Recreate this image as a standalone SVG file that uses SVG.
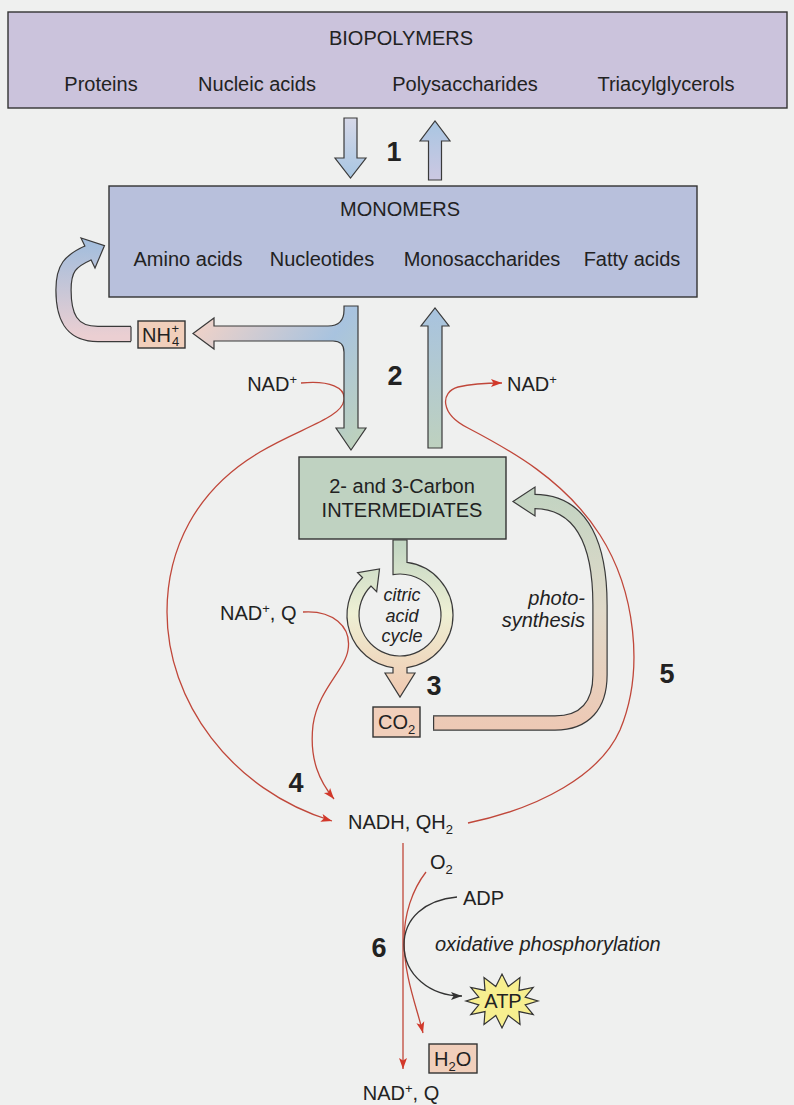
<svg xmlns="http://www.w3.org/2000/svg" width="794" height="1105" viewBox="0 0 794 1105">
<defs>
<style>
.t{font-family:"Liberation Sans",Arial,sans-serif;font-size:20px;fill:#222}
.i{font-style:italic}
.c{font-size:18px}
.n{font-family:"Liberation Sans",Arial,sans-serif;font-size:27px;font-weight:bold;fill:#222}
.s{font-size:13px}
.red{fill:none;stroke:#c0473a;stroke-width:1.3}
.blk{fill:none;stroke:#333;stroke-width:1.3}
.box{stroke:#333;stroke-width:1.4}
.arr{stroke:#3a3a3a;stroke-width:1.2;stroke-linejoin:miter}
.out{fill:none;stroke:#3a3a3a}
</style>
<linearGradient id="g1d" gradientUnits="userSpaceOnUse" x1="0" y1="118" x2="0" y2="178"><stop offset="0" stop-color="#d6d8e8"/><stop offset="1" stop-color="#a8c6e2"/></linearGradient>
<linearGradient id="g1u" gradientUnits="userSpaceOnUse" x1="0" y1="180" x2="0" y2="121"><stop offset="0" stop-color="#ccc8e2"/><stop offset="1" stop-color="#a9c6e2"/></linearGradient>
<linearGradient id="g2d" gradientUnits="userSpaceOnUse" x1="351" y1="450" x2="193" y2="330"><stop offset="0" stop-color="#bdd1bd"/><stop offset="0.42" stop-color="#a8c3df"/><stop offset="1" stop-color="#f0d2c8"/></linearGradient>
<linearGradient id="g2u" gradientUnits="userSpaceOnUse" x1="0" y1="448" x2="0" y2="308"><stop offset="0" stop-color="#bed1bf"/><stop offset="1" stop-color="#a8c3df"/></linearGradient>
<linearGradient id="gNH" gradientUnits="userSpaceOnUse" x1="0" y1="336" x2="0" y2="245"><stop offset="0" stop-color="#ebcfd2"/><stop offset="1" stop-color="#a5bedc"/></linearGradient>
<linearGradient id="gCit" gradientUnits="userSpaceOnUse" x1="0" y1="545" x2="0" y2="697"><stop offset="0" stop-color="#c3d6c3"/><stop offset="0.45" stop-color="#eef0d4"/><stop offset="1" stop-color="#f0c8b0"/></linearGradient>
<linearGradient id="gPh" gradientUnits="userSpaceOnUse" x1="0" y1="726" x2="0" y2="495"><stop offset="0" stop-color="#edc9b5"/><stop offset="0.5" stop-color="#e0d9c9"/><stop offset="1" stop-color="#c3d4c2"/></linearGradient>
<marker id="mr" markerUnits="userSpaceOnUse" markerWidth="12" markerHeight="8" refX="11" refY="4" orient="auto" overflow="visible"><path d="M0,0 L11,4 L0,8 L2.5,4 Z" fill="#d2382a"/></marker>
<marker id="mb" markerUnits="userSpaceOnUse" markerWidth="12" markerHeight="8" refX="11" refY="4" orient="auto" overflow="visible"><path d="M0,0 L11,4 L0,8 L2.5,4 Z" fill="#333"/></marker>
</defs>
<rect x="0" y="0" width="794" height="1105" fill="#eff0ef"/>

<g id="connectors">
<path class="red" d="M301,383 C330,380 346,388 344,400 C342,418 300,428 260,452 C195,490 167,550 167,612 C167,700 230,790 332,821" marker-end="url(#mr)"/>
<path class="red" d="M303,612 C332,610 352,626 348,650 C345,670 318,690 313,725 C309,760 320,782 334,799" marker-end="url(#mr)"/>
<path class="red" d="M468,823 C540,808 600,775 620,730 C645,670 635,590 600,535 C565,480 510,450 468,428 C440,414 440,392 458,387 C475,383 488,383 502,383" marker-end="url(#mr)"/>
<path class="red" d="M403,843 L403,1069" marker-end="url(#mr)"/>
<path class="red" d="M426,872 C412,890 404,915 404,940 C404,975 416,1005 423,1033" marker-end="url(#mr)"/>
<path class="blk" d="M457,897 C425,900 404,918 404,945 C404,975 430,996 462,996" marker-end="url(#mb)"/>

<path class="arr" fill="url(#g1d)" d="M344,118 L357,118 L357,158 L366,158 L350.5,178 L335,158 L344,158 Z"/>
<path class="arr" fill="url(#g1u)" d="M428.5,180 L441.5,180 L441.5,141 L450,141 L435,121 L420,141 L428.5,141 Z"/>
<path class="arr" fill="url(#g2d)" d="M344,306 L358,306 L358,428 L366,428 L351,450 L336,428 L344,428 L344,352 Q344,341 333,341 L214,341 L214,349 L193,333.5 L214,318 L214,326 L328,326 Q344,326 344,310 Z"/>
<path class="arr" fill="url(#g2u)" d="M428,448 L442,448 L442,326 L449,326 L435,308 L421,326 L428,326 Z"/>

<path class="out" stroke-width="16.4" d="M131,334 L98,334 C70,334 63.5,315 63.5,290 C63.5,268 70,261 89,252.5"/>
<path fill="none" stroke="url(#gNH)" stroke-width="14" d="M131,334 L98,334 C70,334 63.5,315 63.5,290 C63.5,268 70,261 89,252.5"/>
<line x1="131" y1="326.8" x2="131" y2="341.2" stroke="#3a3a3a" stroke-width="1.2"/>
<path class="arr" fill="url(#gNH)" d="M90.9,259.4 L95,268 L104.5,245.6 L81,238 L85.1,246.6"/>

<path class="arr" fill="url(#gCit)" d="M407,540 L407,562.46 A53,53 0 0,1 407,667.54 L407,673 L415,673 L400,697 L385,673 L393,673 L393,667.54 A53,53 0 0,1 362.52,577.52 L357.57,572.57 L379.5,569 L376.67,591.67 L371.01,586.01 A41,41 0 1,0 393,574.6 L393,540 Z"/>

<path class="out" stroke-width="15.4" d="M433,723 L555,723 C585,723 600,705 600,675 L600,605 C600,550 585,501.5 534,501.5"/>
<path fill="none" stroke="url(#gPh)" stroke-width="13" d="M433,723 L555,723 C585,723 600,705 600,675 L600,605 C600,550 585,501.5 534,501.5"/>
<line x1="433.6" y1="716.3" x2="433.6" y2="729.7" stroke="#3a3a3a" stroke-width="1.2"/>
<path class="arr" fill="url(#gPh)" d="M535,495 L535,487 L513,501.5 L535,516 L535,508"/>
</g>

<g id="biopolymers">
<rect class="box" x="8" y="12" width="779" height="96" fill="#cbc3dc"/>
<text class="t" x="401" y="45" text-anchor="middle">BIOPOLYMERS</text>
<text class="t" x="101" y="91" text-anchor="middle">Proteins</text>
<text class="t" x="257" y="91" text-anchor="middle">Nucleic acids</text>
<text class="t" x="465" y="91" text-anchor="middle">Polysaccharides</text>
<text class="t" x="666" y="91" text-anchor="middle">Triacylglycerols</text>
</g>

<g id="monomers">
<rect class="box" x="109" y="186" width="588" height="111" fill="#b8c0dc"/>
<text class="t" x="400" y="216" text-anchor="middle">MONOMERS</text>
<text class="t" x="188" y="266" text-anchor="middle">Amino acids</text>
<text class="t" x="322" y="266" text-anchor="middle">Nucleotides</text>
<text class="t" x="482" y="266" text-anchor="middle">Monosaccharides</text>
<text class="t" x="632" y="266" text-anchor="middle">Fatty acids</text>
</g>

<g id="intermediates">
<rect class="box" x="299" y="457" width="207" height="82" fill="#bfd2c1"/>
<text class="t" x="402" y="493" text-anchor="middle">2- and 3-Carbon</text>
<text class="t" x="402" y="517" text-anchor="middle">INTERMEDIATES</text>
</g>

<g id="nh4">
<rect class="box" x="138" y="321" width="47" height="27" fill="#f1cfbb"/>
<text class="t" x="142" y="342">NH<tspan class="s" x="171.5" y="333">+</tspan><tspan class="s" x="172" y="346">4</tspan></text>
</g>

<g id="co2">
<rect class="box" x="373" y="707" width="47" height="30" fill="#f1cfbb"/>
<text class="t" x="378" y="729">CO<tspan class="s" dy="5">2</tspan></text>
</g>

<g id="h2o">
<rect class="box" x="429" y="1044" width="48" height="29" fill="#f1cfbb"/>
<text class="t" x="434" y="1066">H<tspan class="s" dy="5">2</tspan><tspan dy="-5">O</tspan></text>
</g>

<g id="atp">
<polygon points="538,1001 525.2,1004.9 533.2,1014.5 519,1011.6 520,1024.4 508.2,1015.5 502,1028 495.8,1015.5 484,1024.4 485,1011.6 470.8,1014.5 478.8,1004.9 466,1001 478.8,997.1 470.8,987.5 485,990.4 484,977.6 495.8,986.5 502,974 508.2,986.5 520,977.6 519,990.4 533.2,987.5 525.2,997.1" fill="#f7ef8f" stroke="#333" stroke-width="1.2"/>
<text class="t" x="503" y="1008" text-anchor="middle">ATP</text>
</g>

<g id="labels">
<text class="n" x="394" y="161" text-anchor="middle">1</text>
<text class="n" x="395" y="385" text-anchor="middle">2</text>
<text class="n" x="434" y="695" text-anchor="middle">3</text>
<text class="n" x="296" y="792" text-anchor="middle">4</text>
<text class="n" x="667" y="683" text-anchor="middle">5</text>
<text class="n" x="379" y="957" text-anchor="middle">6</text>

<text class="t" x="297" y="391" text-anchor="end">NAD<tspan class="s" dy="-7">+</tspan></text>
<text class="t" x="507" y="391">NAD<tspan class="s" dy="-7">+</tspan></text>
<text class="t" x="220" y="620">NAD<tspan class="s" dy="-7">+</tspan><tspan dy="7">, Q</tspan></text>

<text class="t i c" x="402" y="601" text-anchor="middle">citric</text>
<text class="t i c" x="402" y="621.5" text-anchor="middle">acid</text>
<text class="t i c" x="402" y="642" text-anchor="middle">cycle</text>

<text class="t i" x="585" y="605" text-anchor="end">photo-</text>
<text class="t i" x="585" y="627" text-anchor="end">synthesis</text>

<text class="t" x="348" y="829">NADH, QH<tspan class="s" dy="5">2</tspan></text>
<text class="t" x="430" y="869">O<tspan class="s" dy="5">2</tspan></text>
<text class="t" x="463" y="905">ADP</text>
<text class="t i" x="435" y="951">oxidative phosphorylation</text>
<text class="t" x="401" y="1100" text-anchor="middle">NAD<tspan class="s" dy="-7">+</tspan><tspan dy="7">, Q</tspan></text>
</g>
</svg>
